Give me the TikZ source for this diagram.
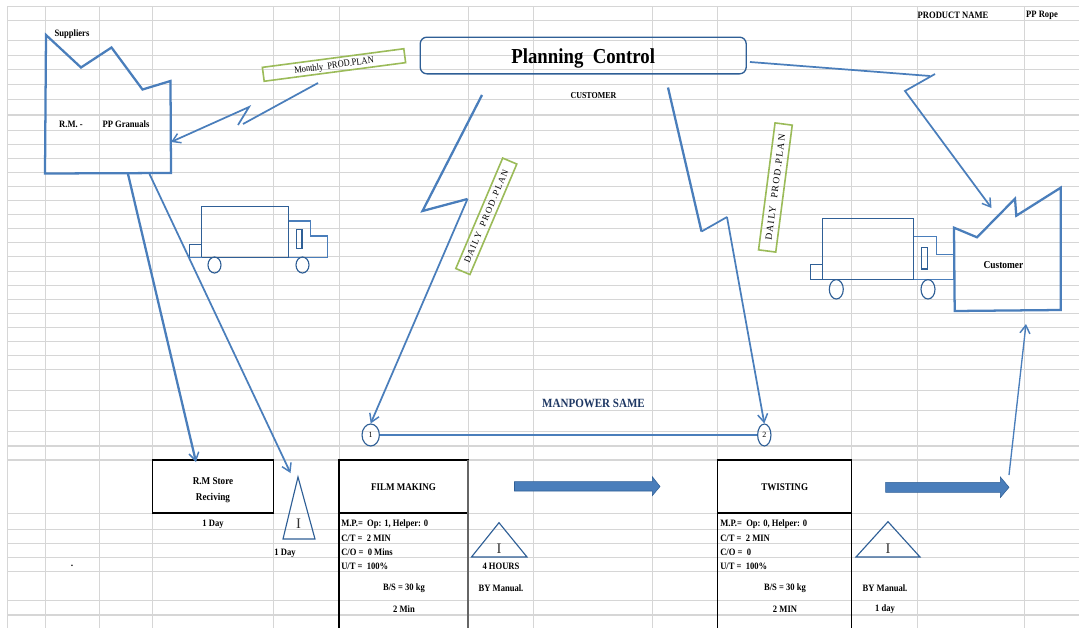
\documentclass[tikz,border=0pt]{standalone}
\usepackage{fontspec}
\setmainfont{Liberation Serif}
\newfontfamily\spacedserif[LetterSpace=15]{Liberation Serif}
\usetikzlibrary{arrows.meta,shapes.geometric}
\definecolor{gridc}{HTML}{D6D6D6}
\definecolor{flow}{HTML}{4A7EBB}
\definecolor{deep}{HTML}{2F5F96}
\definecolor{leaf}{HTML}{9BBB59}
\definecolor{navy}{HTML}{1F3864}
\newcommand{\sq}[1]{\raisebox{-0.7pt}[\height][\depth]{\scalebox{0.88}[1]{#1}}}
\tikzset{
  gridline/.style={draw=gridc,line width=0.75pt},
  gridmid/.style={draw=gridc,line width=1.05pt},
  gridthick/.style={draw=gridc,line width=1.5pt},
  factory/.style={draw=flow,line width=1.7pt,line join=miter},
  truckline/.style={draw=deep,line width=0.85pt},
  cabline/.style={draw=flow,line width=0.85pt},
  thickflow/.style={draw=flow,line width=1.7pt},
  thinflow/.style={draw=flow,line width=1.3pt},
  tip/.style={-{Straight Barb[length=6pt,width=7.5pt,line width=1.1pt]}},
  plan/.style={draw=leaf,line width=1.2pt,inner sep=0pt,minimum height=10.5pt,font=\fontsize{7.2}{8}\selectfont},
  small/.style={font=\fontsize{7.3}{8}\bfseries\selectfont,inner sep=0pt},
  leftlab/.style={small,anchor=west},
  procbox/.style={draw=black,line width=1pt},
  inventory/.style={draw=deep,line width=0.85pt,line join=miter},
  invlab/.style={font=\fontsize{11}{12}\selectfont,inner sep=0pt,text=black!80},
  block/.style={fill=flow,draw=deep,line width=0.4pt},
  kaizen/.style={draw=deep,line width=0.85pt,inner sep=0pt,font=\fontsize{6}{7}\selectfont},
}
\begin{document}
\begin{tikzpicture}[x=0.75pt,y=-0.75pt]
\useasboundingbox (0,0) rectangle (1079,628);
\fill[white] (0,0) rectangle (1079,628);
% grid
\foreach \yy in {6.7,20,40.7,55,69.3,84.3,99.3,130,144.3,158,172.3,186.3,200.3,214.3,228.3,242.3,256.3,271,285,299,313,327,341,355,369.5,390.5,410.5,431.5,513,529,543,557,571,600.7}
  \draw[gridline] (7,\yy) -- (1079,\yy);
\foreach \yy in {115,460,615}
  \draw[gridmid] (7,\yy) -- (1079,\yy);
\draw[gridthick] (7,446) -- (1079,446);
\foreach \xx in {7,45.5,99.5,152.5,273.5,339,468,533,652.5,717.5,851.5,917,1024.5}
  \draw[gridline] (\xx,6.7) -- (\xx,628);

% supplier factory
\coordinate (s1) at (46,35);
\draw[factory] (s1) -- (81,67.5) -- (111.5,47.5) -- (142.5,89.5) -- (170.5,81) -- (171,173) -- (45,173.5) -- cycle;
\coordinate (supin) at (171,142);
\coordinate (supa) at (128,174);
\coordinate (supb) at (149.5,174);
\node[small] (tsup) at (72,33) {\sq{Suppliers}};
\node[small] (trm) at (71,123) {\sq{R.M. -}};
\node[small] (tpp) at (126,123) {\sq{PP Granuals}};

% monthly plan
\node[plan,minimum width=107pt,rotate=7.5] (mplan) at (334,65) {\sq{Monthly\ \ PROD.PLAN}};
\coordinate (m1) at (318,83);
\coordinate (m2) at (243,124);
\coordinate (m3) at (238,125);
\coordinate (m4) at (249,107);
\draw[thinflow] (m1) -- (m2);
\draw[thinflow,tip] (m3) -- (m4) -- (supin);

% truck 1
\draw[truckline] (201.5,206.5) rectangle (288.5,257.5);
\draw[truckline] (189.5,257.5) -- (189.5,244.5) -- (201.5,244.5);
\draw[cabline] (288.5,221) -- (310.5,221) -- (310.5,236) -- (327.5,236) -- (327.5,257.5) -- (288.5,257.5);
\draw[cabline] (189.5,257.5) -- (201.5,257.5);
\draw[truckline] (296.5,229.5) rectangle (302,248.5);
\draw[truckline] (214.5,265) ellipse [x radius=6.5,y radius=8];
\draw[truckline] (302.5,265) ellipse [x radius=6.5,y radius=8];

% planning control
\node[draw=deep,line width=1pt,rounded corners=5pt,minimum width=244.5pt,minimum height=27.5pt,inner sep=0pt,font=\fontsize{16}{18}\bfseries\selectfont] (pc) at (583.2,55.5) {\raisebox{-1.5pt}[\height][\depth]{\sq{Planning\ \ Control}}};
\node[small,font=\fontsize{6.8}{8}\bfseries\selectfont] (tcust) at (593.5,94.5) {\sq{CUSTOMER}};

% left lightning
\coordinate (l1) at (482,95);
\coordinate (l2) at (422.5,211);
\coordinate (l3) at (467.5,199);
\node[plan,minimum width=90pt,minimum height=11.5pt,rotate=67,font=\fontsize{6.8}{8}\spacedserif] (dl) at (486.3,216.3) {DAILY\ \ PROD.PLAN};
\draw[thickflow] (l1) -- (l2) -- (l3);

% right lightning
\coordinate (r1) at (668,87.5);
\coordinate (r2) at (701.5,231.5);
\coordinate (r3) at (727,217);
\node[plan,minimum width=96pt,minimum height=13pt,rotate=82.6,font=\fontsize{7.2}{8}\spacedserif] (dr) at (775.4,187.5) {DAILY\ \ PROD.PLAN};
\draw[thickflow] (r1) -- (r2);
\draw[thinflow] (r2) -- (r3);

% far right lightning
\coordinate (f1) at (750,62);
\coordinate (f2) at (930,76);
\coordinate (f3) at (935,74);
\coordinate (f4) at (905,91);
\coordinate (custin) at (991.5,208);
\draw[thinflow] (f1) -- (f2);
\draw[thinflow,tip] (f3) -- (f4) -- (custin);

% truck 2
\draw[truckline] (822.7,218.3) rectangle (913.7,279.7);
\draw[truckline] (810.7,264.7) rectangle (822.7,279.7);
\draw[cabline] (913.7,236.3) -- (936.3,236.3) -- (936.3,254.3) -- (953.3,254.3) -- (953.3,279.7) -- (913.7,279.7);
\draw[truckline] (921.7,247.3) rectangle (927.3,269);
\draw[truckline] (836.3,289.3) ellipse [x radius=7,y radius=9.7];
\draw[truckline] (928,289.3) ellipse [x radius=7,y radius=9.7];

% customer factory
\draw[factory] (954,227.7) -- (977,237.3) -- (1015,198.7) -- (1016.3,215.7) -- (1060.7,187.7) -- (1060.7,310) -- (954.7,311) -- cycle;
\node[small,font=\fontsize{8}{9}\bfseries\selectfont] (tcu) at (1003.5,264) {\sq{Customer}};

% header
\node[small] (tprod) at (953,14.5) {\sq{PRODUCT NAME}};
\node[small] (tprope) at (1042,14.5) {\sq{PP Rope}};

% kaizen circles
\node[kaizen,ellipse,minimum width=13pt,minimum height=16.5pt] (k1) at (370.7,435) {1};
\node[kaizen,ellipse,minimum width=10pt,minimum height=16.5pt] (k2) at (764.3,435) {2};
\draw[thinflow] (k1) -- (k2);
\draw[thinflow,tip] (l3) -- (k1.north);
\draw[thinflow,tip] (r3) -- (k2.north);
\node[small,text=navy,font=\fontsize{9.4}{11}\bfseries\selectfont] (tman) at (593.5,403) {\sq{MANPOWER SAME}};

% process boxes
\node[procbox,minimum width=90.75pt,minimum height=39.75pt,inner sep=0pt] (rm) at (213,486.5) {};
\node[small,font=\fontsize{7.8}{9}\bfseries\selectfont] (rma) at (213,480.5) {\sq{R.M Store}};
\node[small,font=\fontsize{7.8}{9}\bfseries\selectfont] (rmb) at (213,497) {\sq{Reciving}};
\node[procbox,minimum width=96.75pt,minimum height=39.75pt,inner sep=0pt,font=\fontsize{7.7}{9}\bfseries\selectfont] (film) at (403.5,486.5) {\sq{FILM MAKING}};
\draw[procbox] (339,513) -- (339,628);
\draw[draw=black!60,line width=1pt] (468,460) -- (468,628);
\node[procbox,minimum width=100.5pt,minimum height=39.75pt,inner sep=0pt,font=\fontsize{7.7}{9}\bfseries\selectfont] (twist) at (784.7,486.5) {\sq{TWISTING}};
\draw[procbox] (717.7,513) -- (717.7,628);
\draw[procbox] (851.7,513) -- (851.7,628);

\coordinate (rmin) at (196,462);
\draw[thickflow,tip] (supa) -- (rmin);
\coordinate (tri1tip) at (290.5,473);
\draw[thinflow,tip] (supb) -- (tri1tip);

\node[small] (a1) at (213,523) {\sq{1 Day}};
% inventory triangles
\draw[inventory] (298,477) -- (283,539) -- (315,539) -- cycle;
\node[invlab] (i1) at (298.5,524) {I};
\node[small] (a2) at (285,552) {\sq{1 Day}};
\draw[inventory] (499,522.7) -- (471.5,557) -- (527,557) -- cycle;
\node[invlab] (i2) at (499,549) {I};
\node[small] (a3) at (501,565.5) {\sq{4 HOURS}};
\node[small] (a4) at (501,587) {\sq{BY Manual.}};
\node[small] (dot) at (72,566) {.};
\draw[inventory] (888,521.7) -- (856,557) -- (920,557) -- cycle;
\node[invlab] (i3) at (888,549) {I};
\node[small] (a5) at (885,587) {\sq{BY Manual.}};
\node[small] (a6) at (885,608) {\sq{1 day}};

% data boxes
\node[leftlab] (d1) at (341,523) {\sq{M.P.=\ \ Op: 1, Helper: 0}};
\node[leftlab] (d2) at (341,537) {\sq{C/T =\ \ 2 MIN}};
\node[leftlab] (d3) at (341,551) {\sq{C/O =\ \ 0 Mins}};
\node[leftlab] (d4) at (341,565) {\sq{U/T =\ \ 100\%}};
\node[small] (d5) at (404,587) {\sq{B/S = 30 kg}};
\node[small] (d6) at (404,608) {\sq{2 Min}};
\node[leftlab] (e1) at (720,523) {\sq{M.P.=\ \ Op: 0, Helper: 0}};
\node[leftlab] (e2) at (720,537) {\sq{C/T =\ \ 2 MIN}};
\node[leftlab] (e3) at (720,551) {\sq{C/O =\ \ 0}};
\node[leftlab] (e4) at (720,565) {\sq{U/T =\ \ 100\%}};
\node[small] (e5) at (785,587) {\sq{B/S = 30 kg}};
\node[small] (e6) at (785,608) {\sq{2 MIN}};

% block arrows
\draw[block] (514.5,481.7) -- (652.3,481.7) -- (652.3,476.7) -- (660,486.5) -- (652.3,495.7) -- (652.3,491) -- (514.5,491) -- cycle;
\draw[block] (885.7,482.3) -- (1000.4,482.3) -- (1000.4,477) -- (1009,487.3) -- (1000.4,497.5) -- (1000.4,492.3) -- (885.7,492.3) -- cycle;
\coordinate (out) at (1009,475);
\coordinate (custbot) at (1026,324);
\draw[thinflow,line width=1pt,tip] (out) -- (custbot);
\end{tikzpicture}
\end{document}
